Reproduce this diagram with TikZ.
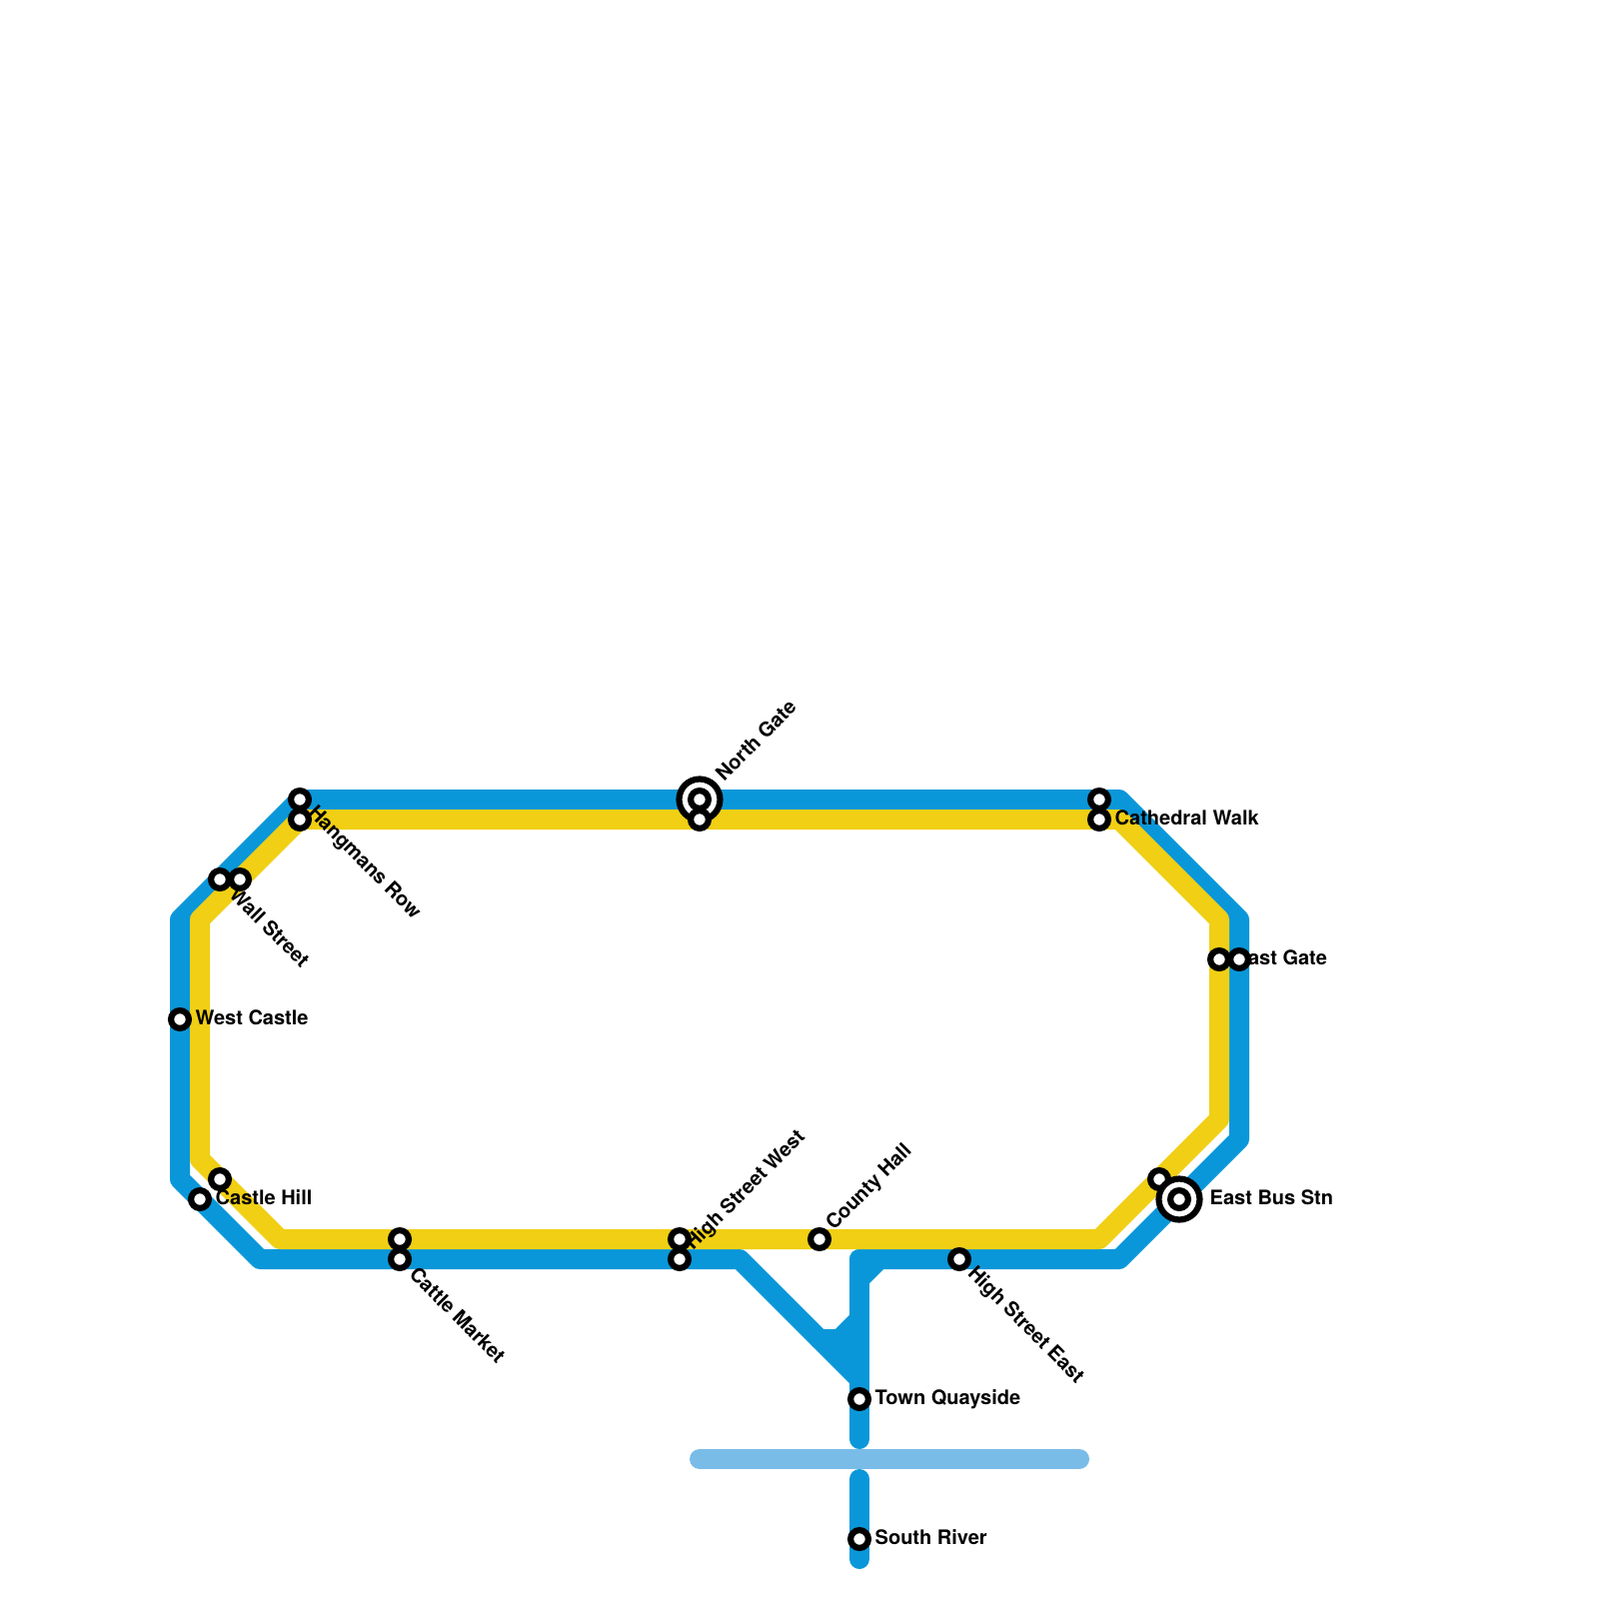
\documentclass[tikz,border=0pt]{standalone}
\usepackage{fontspec}
\setmainfont{TeX Gyre Heros}
\definecolor{lineblue}{RGB}{10,151,217}
\definecolor{lineyellow}{RGB}{240,207,20}
\definecolor{riverblue}{RGB}{122,188,232}
\tikzset{
  blueline/.style={draw=lineblue, line width=2mm, line join=round, line cap=round},
  yellowline/.style={draw=lineyellow, line width=2mm, line join=round, line cap=butt},
  riverline/.style={draw=riverblue, line width=2mm, line cap=round},
  stop/.style={circle, draw=black, fill=white, line width=0.62mm, minimum size=1.78mm, inner sep=0pt, outer sep=0pt},
  hubring/.style={circle, draw=black, fill=white, line width=0.62mm, minimum size=4.1mm, inner sep=0pt, outer sep=0pt},
  stoplabel/.style={font=\fontsize{5.69pt}{6pt}\selectfont\bfseries, inner sep=0pt, anchor=base west}
}

\begin{document}
\begin{tikzpicture}[x=0.1mm, y=-0.1mm]
  \useasboundingbox (0,0) rectangle (1600,1600);

  % Точки зламу ліній
  \coordinate (bw1) at (180,1180);
  \coordinate (bw2) at (180,920);
  \coordinate (bn1) at (300,800);
  \coordinate (bn2) at (1120,800);
  \coordinate (be1) at (1240,920);
  \coordinate (be2) at (1240,1140);
  \coordinate (bs1) at (1120,1260);
  \coordinate (bs2) at (880,1260);
  \coordinate (bs3) at (860,1260);
  \coordinate (bs4) at (860,1280);
  \coordinate (bs5) at (860,1440);
  \coordinate (bq1) at (860,1480);
  \coordinate (bq2) at (860,1560);
  \coordinate (bw3) at (260,1260);
  \coordinate (bw4) at (740,1260);
  \coordinate (bw5) at (860,1380);
  \coordinate (bj1) at (820,1340);
  \coordinate (bj2) at (840,1340);
  \coordinate (bj3) at (860,1320);
  \coordinate (bj4) at (860,1360);
  \coordinate (yn1) at (300,820);
  \coordinate (yn2) at (1120,820);
  \coordinate (ye1) at (1220,920);
  \coordinate (ye2) at (1220,1120);
  \coordinate (ys1) at (1100,1240);
  \coordinate (ys2) at (280,1240);
  \coordinate (yw1) at (200,1160);
  \coordinate (yw2) at (200,920);
  \coordinate (rv1) at (700,1460);
  \coordinate (rv2) at (1080,1460);

  % Річка
  \draw[riverline] (rv1) -- (rv2);

  % Синя лінія
  \draw[blueline] (bs2) -- (bs1) -- (be2) -- (be1) -- (bn2) -- (bn1) -- (bw2) -- (bw1) -- (bw3) -- (bw4) -- (bw5);
  \draw[blueline] (bs3) -- (bs5);
  \draw[blueline] (bs3) -- (bs2) -- (bs4);
  \draw[blueline] (bq1) -- (bq2);
  \draw[blueline] (bj1) -- (bj2) -- (bj3);
  \draw[blueline] (bj2) -- (bj4);

  % Жовта лінія
  \draw[yellowline] (yn1) -- (yn2) -- (ye1) -- (ye2) -- (ys1) -- (ys2) -- (yw1) -- (yw2) -- cycle;

  % Назви зупинок
  \node[stoplabel] (lwc) at (195,1025) {West Castle};
  \node[stoplabel] (lch) at (215,1205) {Castle Hill};
  \node[stoplabel] (lcw) at (1115,825) {Cathedral Walk};
  \node[stoplabel] (leg) at (1235,965) {East Gate};
  \node[stoplabel] (leb) at (1210,1205) {East Bus Stn};
  \node[stoplabel] (ltq) at (875,1405) {Town Quayside};
  \node[stoplabel] (lsr) at (875,1545) {South River};
  \node[stoplabel, rotate=-45] (lhr) at (307,814) {Hangmans Row};
  \node[stoplabel, rotate=-45] (lws) at (228,896) {Wall Street};
  \node[stoplabel, rotate=-45] (lcm) at (408,1276) {Cattle Market};
  \node[stoplabel, rotate=-45] (lhe) at (967,1275) {High Street East};
  \node[stoplabel, rotate=45] (lng) at (724,783) {North Gate};
  \node[stoplabel, rotate=45] (lhw) at (693,1252) {High Street West};
  \node[stoplabel, rotate=45] (lco) at (834,1232) {County Hall};

  % Зупинки
  \node[stop] (hr1) at (300,800) {};
  \node[stop] (hr2) at (300,820) {};
  \node[stop] (ws1) at (220,880) {};
  \node[stop] (ws2) at (240,880) {};
  \node[stop] (wc) at (180,1020) {};
  \node[stop] (ch1) at (220,1180) {};
  \node[stop] (ch2) at (200,1200) {};
  \node[stop] (cm1) at (400,1240) {};
  \node[stop] (cm2) at (400,1260) {};
  \node[stop] (hw1) at (680,1240) {};
  \node[stop] (hw2) at (680,1260) {};
  \node[stop] (co) at (820,1240) {};
  \node[stop] (he) at (960,1260) {};
  \node[stop] (tq) at (860,1400) {};
  \node[stop] (sr) at (860,1540) {};
  \node[stop] (cw1) at (1100,800) {};
  \node[stop] (cw2) at (1100,820) {};
  \node[stop] (eg1) at (1220,960) {};
  \node[stop] (eg2) at (1240,960) {};
  \node[stop] (eb2) at (1160,1180) {};
  \node[hubring] (ngo) at (700,800) {};
  \node[stop] (ng1) at (700,800) {};
  \node[stop] (ng2) at (700,820) {};
  \node[hubring] (ebo) at (1180,1200) {};
  \node[stop] (eb1) at (1180,1200) {};
\end{tikzpicture}
\end{document}
